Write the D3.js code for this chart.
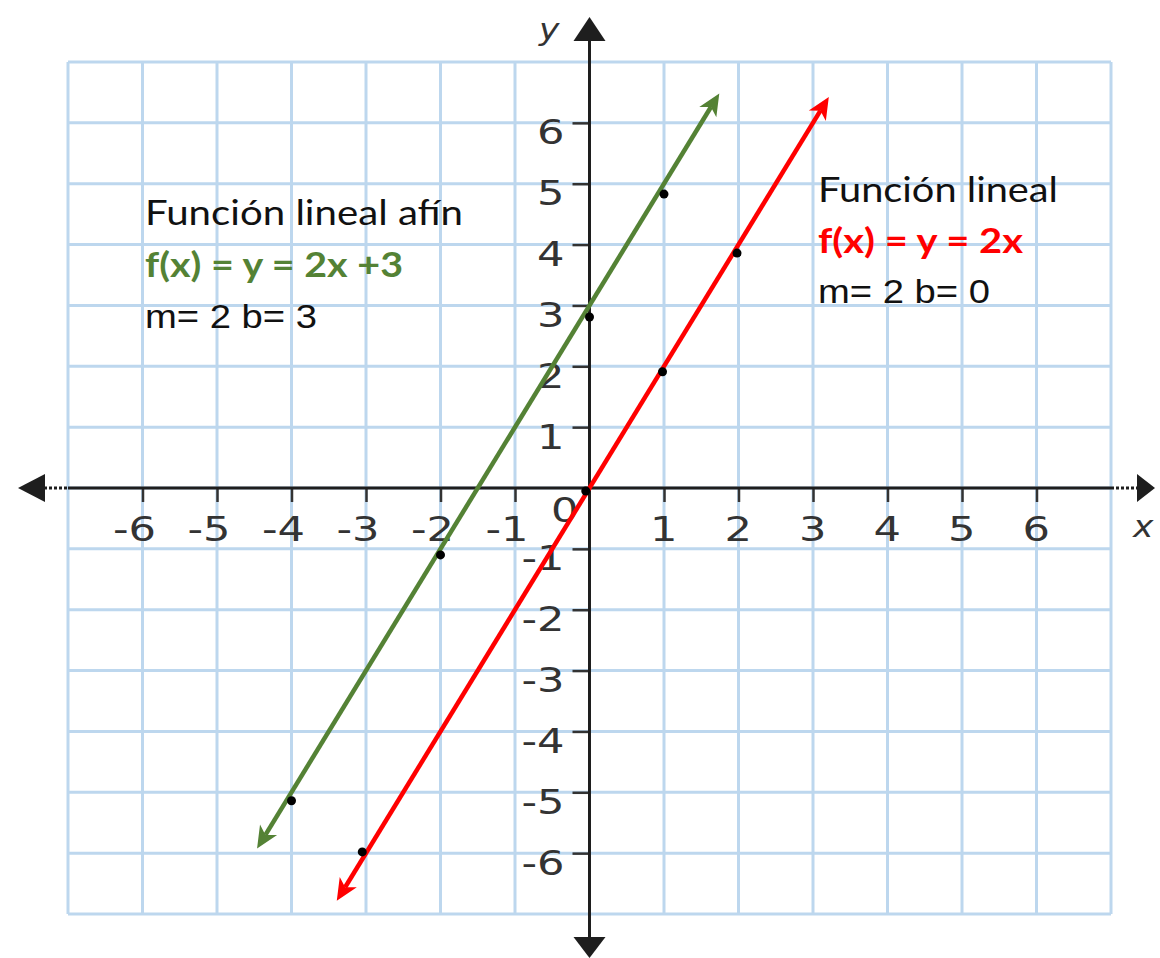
<!DOCTYPE html>
<html>
<head>
<meta charset="utf-8">
<script src="https://cdn.jsdelivr.net/npm/d3@7"></script>
<style>
  body { margin: 0; background: #fff; }
  svg { display: block; }
</style>
</head>
<body>
<svg id="chart" width="1160" height="958"></svg>
<script>
// Axis ticks and grid
const tickValues = [-6, -5, -4, -3, -2, -1, 1, 2, 3, 4, 5, 6];
const tickLabels = ["-6", "-5", "-4", "-3", "-2", "-1", "1", "2", "3", "4", "5", "6"];
const gridValues = d3.range(-7, 8);

// Two functions: f(x) = m·x + b
const seriesIds   = ["afin", "lineal"];
const slopes      = [2, 2];
const intercepts  = [3, 0];
const seriesColor = ["#548235", "#ff0000"];
const lineXStart  = [-4.35, -3.28];
const lineXEnd    = [1.63, 3.10];

// Plotted points on each line
const afinPoints   = [[-4, -5.14], [-2, -1.1], [0, 2.81], [1, 4.83]];
const linealPoints = [[-3.05, -5.98], [-0.05, -0.05], [0.98, 1.91], [1.98, 3.86]];

// Annotation texts
const titles   = ["Función lineal afín", "Función lineal"];
const formulas = ["f(x) = y = 2x +3", "f(x) = y = 2x"];
const params   = ["m= 2 b= 3", "m= 2 b= 0"];

const svg = d3.select("#chart");
const x = d3.scaleLinear().domain([-7, 7]).range([68, 1111]);
const y = d3.scaleLinear().domain([-7, 7]).range([914, 62]);

const gridColor = "#bdd7ee";
const axisColor = "#1e1e1e";
const labelColor = "#333333";
const stretch = 1.27;
const labelOf = d => tickLabels[tickValues.indexOf(d)];

// Grid
const grid = svg.append("g").attr("stroke", gridColor).attr("stroke-width", 3);
grid.selectAll("line.v").data(gridValues).join("line")
  .attr("class", "v")
  .attr("x1", d => x(d)).attr("x2", d => x(d))
  .attr("y1", y(7)).attr("y2", y(-7));
grid.selectAll("line.h").data(gridValues).join("line")
  .attr("class", "h")
  .attr("y1", d => y(d)).attr("y2", d => y(d))
  .attr("x1", x(-7)).attr("x2", x(7));

// X axis ticks and labels
const xAxis = svg.append("g")
  .attr("transform", `translate(0,${y(0)})`)
  .call(d3.axisBottom(x).tickValues(tickValues).tickFormat(labelOf).tickSize(14).tickSizeOuter(0));
xAxis.select(".domain").remove();
xAxis.selectAll(".tick line").attr("stroke", labelColor).attr("stroke-width", 2.5);
xAxis.selectAll(".tick text")
  .attr("fill", labelColor)
  .attr("font-family", "DejaVu Sans")
  .attr("font-size", 34)
  .attr("text-anchor", "end")
  .attr("x", 0).attr("y", 0).attr("dy", null)
  .attr("transform", `translate(13,53) scale(${stretch},1)`);

// Y axis ticks and labels
const yAxis = svg.append("g")
  .attr("transform", `translate(${x(0)},0)`)
  .call(d3.axisLeft(y).tickValues(tickValues).tickFormat(labelOf).tickSize(17).tickSizeOuter(0));
yAxis.select(".domain").remove();
yAxis.selectAll(".tick line").attr("stroke", labelColor).attr("stroke-width", 2.5);
yAxis.selectAll(".tick text")
  .attr("fill", labelColor)
  .attr("font-family", "DejaVu Sans")
  .attr("font-size", 34)
  .attr("text-anchor", "end")
  .attr("x", 0).attr("y", 0).attr("dy", null)
  .attr("transform", `translate(-25,21) scale(${stretch},1)`);

// Origin label
svg.append("text")
  .attr("transform", `translate(${x(0) - 11},${y(0) + 34}) scale(${stretch},1)`)
  .attr("text-anchor", "end")
  .attr("font-family", "DejaVu Sans").attr("font-size", 34)
  .attr("fill", labelColor)
  .text("0");

// Axis lines with arrowheads
const axes = svg.append("g").attr("stroke", axisColor).attr("stroke-width", 3);
axes.append("line").attr("x1", x(-7)).attr("x2", x(7)).attr("y1", y(0)).attr("y2", y(0));
axes.append("line").attr("x1", x(-7) - 24).attr("x2", x(-7)).attr("y1", y(0)).attr("y2", y(0))
  .attr("stroke-dasharray", "3,2");
axes.append("line").attr("x1", x(7)).attr("x2", x(7) + 26).attr("y1", y(0)).attr("y2", y(0))
  .attr("stroke-dasharray", "3,2");
axes.append("line").attr("x1", x(0)).attr("x2", x(0)).attr("y1", y(7) - 22).attr("y2", y(-7) + 24);

const heads = svg.append("g").attr("fill", axisColor);
const ox = x(0), oy = y(0);
heads.append("path").attr("d", `M${x(-7) - 50},${oy} L${x(-7) - 23},${oy - 14} L${x(-7) - 23},${oy + 14} Z`);
heads.append("path").attr("d", `M${x(7) + 44},${oy} L${x(7) + 26},${oy - 14} L${x(7) + 26},${oy + 14} Z`);
heads.append("path").attr("d", `M${ox},${y(7) - 45} L${ox - 16},${y(7) - 21} L${ox + 16},${y(7) - 21} Z`);
heads.append("path").attr("d", `M${ox},${y(-7) + 44} L${ox - 16},${y(-7) + 23} L${ox + 16},${y(-7) + 23} Z`);

// Axis names
svg.append("text")
  .attr("transform", `translate(${ox - 30},${y(7) - 22}) scale(1.15,1)`)
  .attr("text-anchor", "end")
  .attr("font-family", "DejaVu Sans").attr("font-style", "italic").attr("font-size", 30)
  .attr("fill", labelColor).text("y");
svg.append("text")
  .attr("transform", `translate(${x(7) + 22},${oy + 49}) scale(1.15,1)`)
  .attr("font-family", "DejaVu Sans").attr("font-style", "italic").attr("font-size", 30)
  .attr("fill", labelColor).text("x");

// Arrow markers for the function lines
const defs = svg.append("defs");
seriesIds.forEach((id, i) => {
  defs.append("marker")
    .attr("id", "arrow-" + id)
    .attr("markerUnits", "userSpaceOnUse")
    .attr("viewBox", "-8 -12 28 24")
    .attr("refX", 0).attr("refY", 0)
    .attr("markerWidth", 28).attr("markerHeight", 24)
    .attr("orient", "auto-start-reverse")
    .append("path")
    .attr("d", "M16,0 L-6,-10 L0,0 L-6,10 Z")
    .attr("fill", seriesColor[i]);
});

// Function lines
const line = d3.line().x(d => x(d[0])).y(d => y(d[1]));
seriesIds.forEach((id, i) => {
  const ends = [lineXStart[i], lineXEnd[i]].map(v => [v, slopes[i] * v + intercepts[i]]);
  svg.append("path")
    .attr("d", line(ends))
    .attr("fill", "none")
    .attr("stroke", seriesColor[i])
    .attr("stroke-width", 4.5)
    .attr("marker-start", `url(#arrow-${id})`)
    .attr("marker-end", `url(#arrow-${id})`);
});

// Points
svg.append("g").selectAll("circle")
  .data(afinPoints.concat(linealPoints))
  .join("circle")
  .attr("cx", d => x(d[0])).attr("cy", d => y(d[1]))
  .attr("r", 4.5).attr("fill", "#000");

// Annotations
const notes = [
  { x: 145, y0: 225, gap: 51.5, widths: [318, 258, 172] },
  { x: 818, y0: 202, gap: 50.5, widths: [240, 205, 172] }
];
notes.forEach((n, i) => {
  const g = svg.append("g");
  g.append("text")
    .attr("x", n.x).attr("y", n.y0)
    .attr("font-family", "Lato").attr("font-size", 34).attr("fill", "#111")
    .attr("textLength", n.widths[0]).attr("lengthAdjust", "spacingAndGlyphs")
    .text(titles[i]);
  g.append("text")
    .attr("x", n.x).attr("y", n.y0 + n.gap)
    .attr("font-family", "Lato").attr("font-weight", "bold").attr("font-size", 34)
    .attr("fill", seriesColor[i])
    .attr("textLength", n.widths[1]).attr("lengthAdjust", "spacingAndGlyphs")
    .text(formulas[i]);
  g.append("text")
    .attr("x", n.x).attr("y", n.y0 + 2 * n.gap)
    .attr("font-family", "Liberation Sans").attr("font-size", 34).attr("fill", "#111")
    .attr("textLength", n.widths[2]).attr("lengthAdjust", "spacingAndGlyphs")
    .text(params[i]);
});
</script>
</body>
</html>
